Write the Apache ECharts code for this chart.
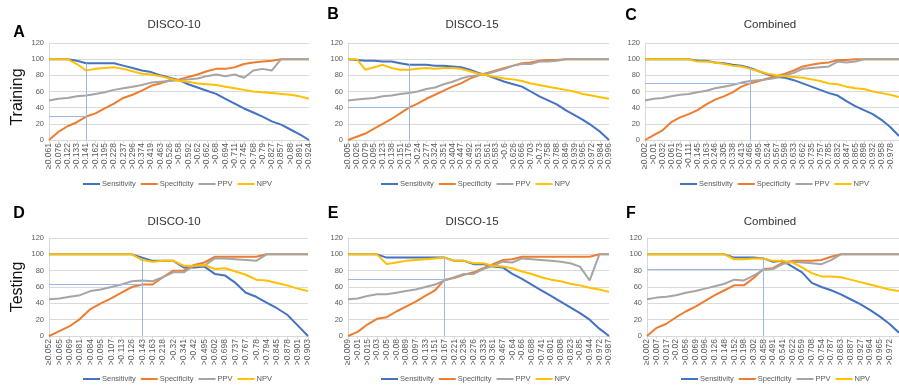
<!DOCTYPE html>
<html>
<head>
<meta charset="utf-8">
<script src="https://cdn.jsdelivr.net/npm/echarts@6/dist/echarts.min.js"></script>
<style>
  html, body { margin: 0; padding: 0; background: #fff; }
  #chart { width: 899px; height: 385px; }
</style>
</head>
<body>
<div id="chart"></div>
<script>
// ---- data ----
const seriesNames = ['Sensitivity', 'Specificity', 'PPV', 'NPV'];
const panelTitles = ['DISCO-10', 'DISCO-15', 'Combined', 'DISCO-10', 'DISCO-15', 'Combined'];
const panelLetters = ['A', 'B', 'C', 'D', 'E', 'F'];
const rowLabels = ['Training', 'Testing'];

// A: training DISCO-10
const catsA = ['≥0.061','>0.076','>0.122','>0.133','>0.141','>0.162','>0.195','>0.228','>0.237','>0.296','>0.374','>0.419','>0.463','>0.526','>0.58','>0.592','>0.62','>0.662','>0.68','>0.694','>0.711','>0.745','>0.768','>0.79','>0.827','>0.857','>0.88','>0.891','>0.924'];
const sensA = [100,100,100,98,95,95,95,95,92,89,86,84,80,77,74,69,65,61,57,51,45,39,34,29,23,19,13,7,0];
const specA = [0,10,17,22,29,33,39,45,52,56,61,67,70,74,75,78,81,85,88,88,90,94,96,97,98,100,100,100,100];
const ppvA  = [49,51,52,54,55,57,59,62,64,66,68,71,72,73,74,75,76,79,81,79,81,77,86,88,86,100,100,100,100];
const npvA  = [100,100,100,94,86,88,89,90,88,85,82,81,79,76,73,72,70,69,68,66,64,62,60,59,58,57,56,54,51];

// B: training DISCO-15
const catsB = ['≥0.005','>0.026','>0.079','>0.095','>0.123','>0.138','>0.151','>0.176','>0.24','>0.277','>0.324','>0.351','>0.404','>0.447','>0.492','>0.531','>0.561','>0.583','>0.6','>0.626','>0.666','>0.703','>0.73','>0.758','>0.788','>0.849','>0.939','>0.965','>0.972','>0.984','>0.996'];
const sensB = [100,99,98,98,97,97,95,93,93,93,92,92,91,90,87,83,80,76,72,69,66,60,54,49,44,37,31,25,18,10,0];
const specB = [0,4,8,14,20,26,33,40,45,51,56,61,66,70,76,80,83,86,89,92,95,96,98,99,99,100,100,100,100,100,100];
const ppvB  = [49,50,51,52,54,55,57,58,60,63,65,69,72,76,79,80,82,85,88,92,94,94,97,97,98,100,100,100,100,100,100];
const npvB  = [100,100,87,90,93,89,87,87,88,89,88,89,89,88,85,82,80,78,76,75,73,70,68,66,64,62,60,57,55,53,51];

// C: training combined (last category runs past the right edge of the figure)
const catsC = ['≥0.002','>0.01','>0.032','>0.061','>0.073','>0.111','>0.145','>0.163','>0.246','>0.305','>0.338','>0.413','>0.466','>0.495','>0.524','>0.567','>0.598','>0.633','>0.662','>0.735','>0.757','>0.785','>0.832','>0.847','>0.865','>0.898','>0.932','>0.958','>0.978',''];
const sensC = [100,100,100,100,100,100,98,98,96,95,93,92,89,85,81,78,77,74,70,66,62,58,55,48,42,37,32,25,16,5];
const specC = [0,6,12,22,28,32,37,44,50,54,59,66,70,73,76,79,82,86,91,93,95,96,99,99,100,100,100,100,100,100];
const ppvC  = [49,51,52,54,56,57,59,61,64,66,68,71,73,74,75,77,80,83,88,89,90,91,97,96,97,100,100,100,100,100];
const npvC  = [100,100,100,100,100,100,97,97,96,94,92,91,88,85,82,80,79,78,77,75,73,70,69,66,64,63,60,58,56,53];

// D: testing DISCO-10
const catsD = ['≥0.052','>0.065','>0.069','>0.081','>0.084','>0.095','>0.107','>0.113','>0.126','>0.143','>0.163','>0.218','>0.32','>0.341','>0.42','>0.495','>0.602','>0.698','>0.737','>0.767','>0.78','>0.794','>0.845','>0.878','>0.901','>0.903'];
const sensD = [100,100,100,100,100,100,100,100,100,96,92,92,92,84,84,85,76,74,65,53,48,41,34,26,13,0];
const specD = [0,6,12,21,33,40,46,53,60,63,63,72,80,80,87,90,97,97,97,97,97,100,100,100,100,100];
const ppvD  = [45,46,48,50,55,57,60,63,67,68,67,72,78,78,86,86,95,95,94,93,92,100,100,100,100,100];
const npvD  = [100,100,100,100,100,100,100,100,100,93,91,92,92,86,86,87,82,83,79,75,69,68,65,62,58,55];

// E: testing DISCO-15
const catsE = ['≥0.009','>0.01','>0.015','>0.03','>0.05','>0.08','>0.089','>0.097','>0.133','>0.151','>0.167','>0.221','>0.236','>0.276','>0.333','>0.361','>0.467','>0.64','>0.66','>0.688','>0.741','>0.801','>0.808','>0.823','>0.85','>0.944','>0.972','>0.987'];
const sensE = [100,100,100,100,96,96,96,96,96,96,96,92,92,88,88,85,84,76,70,63,56,49,42,35,28,20,9,0];
const specE = [0,5,14,21,23,30,36,42,49,56,69,71,75,78,83,88,93,94,97,97,97,97,97,97,97,97,100,100];
const ppvE  = [45,46,49,51,51,53,55,57,60,63,68,72,76,76,82,86,91,90,95,94,93,92,91,89,85,68,100,100];
const npvE  = [100,100,100,100,88,90,92,93,94,95,96,92,92,89,89,86,85,83,79,76,72,69,67,64,62,59,57,54];

// F: testing combined (last category runs past the right edge of the figure)
const catsF = ['≥0.002','>0.007','>0.017','>0.02','>0.056','>0.069','>0.096','>0.126','>0.148','>0.152','>0.198','>0.302','>0.458','>0.491','>0.541','>0.622','>0.659','>0.708','>0.754','>0.787','>0.863','>0.887','>0.927','>0.964','>0.965','>0.972',''];
const sensF = [100,100,100,100,100,100,100,100,100,96,96,96,95,91,92,85,78,65,60,56,51,45,39,32,24,15,4];
const specF = [0,10,15,23,30,36,43,50,56,62,62,71,82,83,90,92,92,92,93,97,100,100,100,100,100,100,100];
const ppvF  = [45,47,48,50,53,55,58,61,64,69,68,74,81,82,88,91,90,89,88,93,100,100,100,100,100,100,100];
const npvF  = [100,100,100,100,100,100,100,100,100,94,94,95,95,92,92,90,84,77,73,73,72,69,66,63,60,57,55];

// chosen cut-off per panel: category, specificity level, top of the vertical guide
const cutCats = ['>0.141', '>0.176', '>0.466', '>0.143', '>0.167', '>0.458'];
const cutLevels = [30, 40, 70, 63, 70, 82];
const cutTops = [95, 94, 90, 94, 96, 95];

const yTicks = [0, 20, 40, 60, 80, 100, 120];

// ---- layout ----
const colors = ['#4472C4', '#ED7D31', '#A5A5A5', '#FFC000'];
const font = 'Liberation Sans, Arial, sans-serif';
const textGrey = '#595959';

const panels = [
  { cats: catsA, vals: [sensA, specA, ppvA, npvA], grid: { left: 49, top: 43, width: 260, height: 97 } },
  { cats: catsB, vals: [sensB, specB, ppvB, npvB], grid: { left: 348, top: 43, width: 261, height: 97 } },
  { cats: catsC, vals: [sensC, specC, ppvC, npvC], grid: { left: 645, top: 43, width: 256, height: 97 } },
  { cats: catsD, vals: [sensD, specD, ppvD, npvD], grid: { left: 49, top: 238, width: 259, height: 98 } },
  { cats: catsE, vals: [sensE, specE, ppvE, npvE], grid: { left: 348, top: 238, width: 261, height: 98 } },
  { cats: catsF, vals: [sensF, specF, ppvF, npvF], grid: { left: 647, top: 238, width: 252, height: 98 } }
];
const titlePos = [[174, 25], [472, 25], [770, 25], [174, 222], [472, 222], [770, 222]];
const letterPos = [[19, 33], [333, 15], [631, 16], [19, 214], [333, 214], [631, 214]];
const legendPos = [[78, 175], [376, 175], [675, 175], [78, 370], [376, 370], [676, 370]];

const grids = [], xAxes = [], yAxes = [], series = [], legends = [], graphics = [];

panels.forEach((p, i) => {
  grids.push(p.grid);
  xAxes.push({
    type: 'category', gridIndex: i, data: p.cats, boundaryGap: false,
    axisLine: { lineStyle: { color: '#d9d9d9' } },
    axisTick: { show: true, interval: 0, length: 3, lineStyle: { color: '#d9d9d9' } },
    axisLabel: { interval: 0, rotate: 90, fontSize: 8.5, color: textGrey, fontFamily: font, margin: 3 }
  });
  yAxes.push({
    type: 'value', gridIndex: i, min: yTicks[0], max: yTicks[yTicks.length - 1], interval: 20,
    axisLine: { show: true, lineStyle: { color: '#d9d9d9' } },
    axisTick: { show: false },
    splitLine: { lineStyle: { color: '#d9d9d9', width: 1 } },
    axisLabel: { fontSize: 7.5, color: textGrey, fontFamily: font, margin: 5 }
  });
  seriesNames.forEach((name, k) => {
    const s = {
      name: name, type: 'line', xAxisIndex: i, yAxisIndex: i,
      data: p.vals[k], symbol: 'none', smooth: false,
      lineStyle: { width: 2, color: colors[k] }, itemStyle: { color: colors[k] },
      emphasis: { disabled: true }
    };
    if (k === 0) {
      s.markLine = {
        silent: true, symbol: 'none', label: { show: false },
        lineStyle: { color: '#9bb7e3', width: 1, type: 'solid' },
        emphasis: { disabled: true },
        data: [
          [{ coord: [p.cats[0], cutLevels[i]] }, { coord: [cutCats[i], cutLevels[i]] }],
          [{ coord: [cutCats[i], 0] }, { coord: [cutCats[i], cutTops[i]] }]
        ]
      };
    }
    series.push(s);
  });
  legends.push({
    left: legendPos[i][0], top: legendPos[i][1], data: seriesNames,
    icon: 'rect', itemWidth: 17, itemHeight: 2, itemGap: 5,
    textStyle: { fontSize: 7.5, color: textGrey, fontFamily: font, padding: [0, 0, 0, -3] },
    selectedMode: false
  });
  graphics.push({
    type: 'text', x: titlePos[i][0], y: titlePos[i][1],
    style: { text: panelTitles[i], fontSize: 11.5, fill: '#333', fontFamily: font, align: 'center', verticalAlign: 'middle' }
  });
  graphics.push({
    type: 'text', x: letterPos[i][0], y: letterPos[i][1],
    style: { text: panelLetters[i], fontSize: 16, fontWeight: 'bold', fill: '#000', fontFamily: font, align: 'center', verticalAlign: 'middle' }
  });
});

graphics.push({
  type: 'text', x: 18, y: 97, rotation: Math.PI / 2,
  style: { text: rowLabels[0], fontSize: 16, fill: '#111', fontFamily: font, align: 'center', verticalAlign: 'middle' }
});
graphics.push({
  type: 'text', x: 18, y: 287, rotation: Math.PI / 2,
  style: { text: rowLabels[1], fontSize: 16, fill: '#111', fontFamily: font, align: 'center', verticalAlign: 'middle' }
});

const chart = echarts.init(document.getElementById('chart'));
chart.setOption({
  animation: false,
  backgroundColor: '#fff',
  grid: grids,
  xAxis: xAxes,
  yAxis: yAxes,
  legend: legends,
  graphic: graphics,
  series: series
});
</script>
</body>
</html>
